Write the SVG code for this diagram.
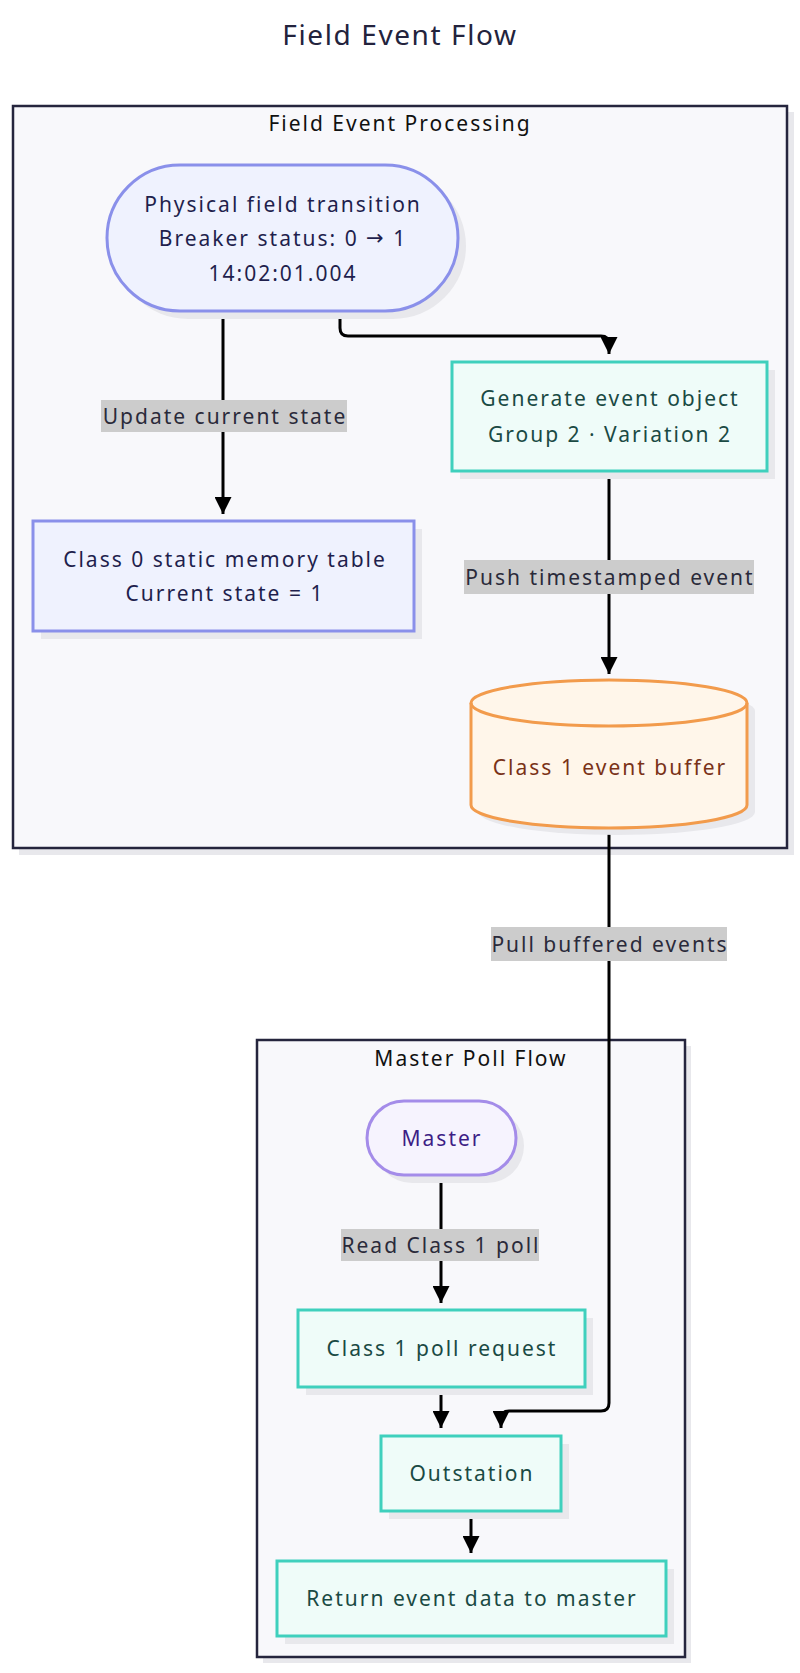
<svg xmlns="http://www.w3.org/2000/svg" width="800" height="1673" viewBox="0 0 800 1673">
<defs>
<marker id="ah" viewBox="0 0 16 16" refX="16" refY="8" markerWidth="17" markerHeight="17" markerUnits="userSpaceOnUse" orient="auto">
<path d="M0,0 L16,8 L0,16 z" fill="#000"/>
</marker>
</defs>
<style>
text{font-family:"Noto Sans","Open Sans",sans-serif;text-anchor:middle;dominant-baseline:central;letter-spacing:2px}
.title{font-size:28px;fill:#23233d;letter-spacing:1.6px}
.frame{fill:#f8f8fb;stroke:#25253d;stroke-width:2.5}
.shadow{fill:#e8e8ec}
.flabel{font-size:21px;fill:#111}
.blue{fill:#eff2fe;stroke:#8a90ea;stroke-width:3}
.bluet{font-size:21px;fill:#1f1f4d}
.teal{fill:#effcf9;stroke:#3fd0bd;stroke-width:3}
.tealt{font-size:21px;fill:#1a4a44}
.orange{fill:#fff6ea;stroke:#f29b4c;stroke-width:3}
.oranget{font-size:21px;fill:#7a3218}
.purple{fill:#f6f3fe;stroke:#a48ce9;stroke-width:3}
.purplet{font-size:21px;fill:#3d1e86}
.edge{fill:none;stroke:#000;stroke-width:3;marker-end:url(#ah)}
.lbg{fill:#cccccc}
.lt{font-size:21px;fill:#2a2a3a}
.arw{font-family:"DejaVu Sans",sans-serif}
</style>
<rect width="800" height="1673" fill="#ffffff"/>
<text class="title" x="400" y="34">Field Event Flow</text>

<g id="frame-field">
<rect class="shadow" x="19" y="112" width="775" height="743"/>
<rect class="frame" x="13" y="106" width="774" height="742"/>
<text class="flabel" x="400" y="123">Field Event Processing</text>
</g>
<g id="frame-master">
<rect class="shadow" x="263" y="1046" width="428" height="617"/>
<rect class="frame" x="257" y="1040" width="428" height="617"/>
<text class="flabel" x="471" y="1058">Master Poll Flow</text>
</g>

<g id="connectors">
<path class="edge" d="M223,311 V514"/>
<path class="edge" d="M340,311 V328 Q340,336 348,336 H601 Q609,336 609,344 V354"/>
<path class="edge" d="M609,471 V674"/>
<path class="edge" d="M609,828 V1403 Q609,1411 601,1411 H509 Q501,1411 501,1419 V1428"/>
<path class="edge" d="M441,1175 V1303"/>
<path class="edge" d="M441,1387 V1428"/>
<path class="edge" d="M471,1511 V1553"/>
<g id="edge-labels">
<rect class="lbg" x="101" y="400" width="246" height="32"/>
<text class="lt" x="225" y="416">Update current state</text>
<rect class="lbg" x="464" y="560" width="290" height="34"/>
<text class="lt" x="610" y="577">Push timestamped event</text>
<rect class="lbg" x="491" y="927" width="236" height="34"/>
<text class="lt" x="610" y="944">Pull buffered events</text>
<rect class="lbg" x="341" y="1229" width="198" height="32"/>
<text class="lt" x="441" y="1245">Read Class 1 poll</text>
</g>
</g>

<g id="node-transition">
<rect class="shadow" x="115" y="173" width="351" height="146" rx="73"/>
<rect class="blue" x="107" y="165" width="351" height="146" rx="73"/>
<text class="bluet" x="283" y="204">Physical field transition</text>
<text class="bluet" x="283" y="238">Breaker status: 0 <tspan class="arw">→</tspan> 1</text>
<text class="bluet" x="283" y="273">14:02:01.004</text>
</g>
<g id="node-generate">
<rect class="shadow" x="460" y="370" width="315" height="109"/>
<rect class="teal" x="452" y="362" width="315" height="109"/>
<text class="tealt" x="610" y="398">Generate event object</text>
<text class="tealt" x="610" y="434">Group 2 · Variation 2</text>
</g>
<g id="node-class0">
<rect class="shadow" x="41" y="529" width="381" height="110"/>
<rect class="blue" x="33" y="521" width="381" height="110"/>
<text class="bluet" x="225" y="559">Class 0 static memory table</text>
<text class="bluet" x="225" y="593">Current state = 1</text>
</g>
<g id="node-buffer">
<path class="shadow" d="M479,711 A138,23 0 0 1 755,711 V812 A138,23 0 0 1 479,812 Z"/>
<path class="orange" d="M471,703 A138,23 0 0 1 747,703 V805 A138,23 0 0 1 471,805 Z"/>
<path d="M471,703 A138,23 0 0 0 747,703" fill="none" stroke="#f29b4c" stroke-width="3"/>
<text class="oranget" x="610" y="767">Class 1 event buffer</text>
</g>
<g id="node-master">
<rect class="shadow" x="375" y="1109" width="149" height="74" rx="37"/>
<rect class="purple" x="367" y="1101" width="149" height="74" rx="37"/>
<text class="purplet" x="442" y="1138">Master</text>
</g>
<g id="node-pollreq">
<rect class="shadow" x="306" y="1318" width="287" height="77"/>
<rect class="teal" x="298" y="1310" width="287" height="77"/>
<text class="tealt" x="442" y="1348">Class 1 poll request</text>
</g>
<g id="node-outstation">
<rect class="shadow" x="389" y="1444" width="180" height="75"/>
<rect class="teal" x="381" y="1436" width="180" height="75"/>
<text class="tealt" x="472" y="1473">Outstation</text>
</g>
<g id="node-return">
<rect class="shadow" x="285" y="1569" width="389" height="75"/>
<rect class="teal" x="277" y="1561" width="389" height="75"/>
<text class="tealt" x="472" y="1598">Return event data to master</text>
</g>
</svg>
